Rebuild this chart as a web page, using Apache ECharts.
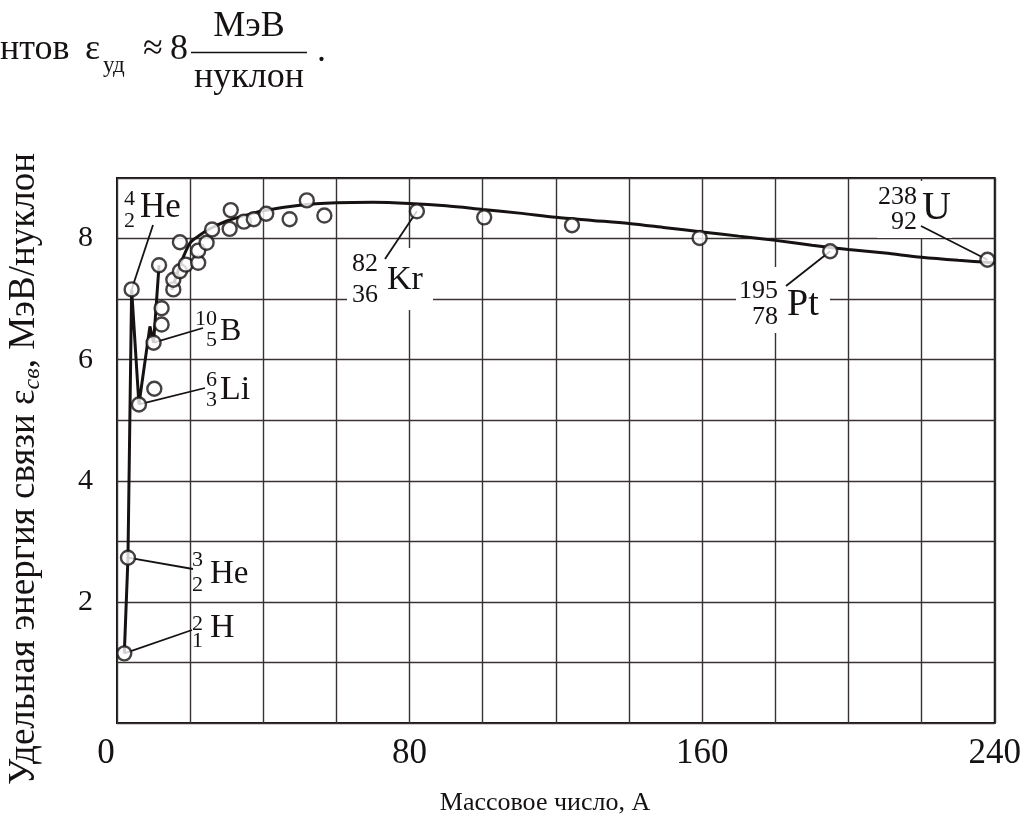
<!DOCTYPE html>
<html>
<head>
<meta charset="utf-8">
<script src="https://cdn.jsdelivr.net/npm/echarts@6/dist/echarts.min.js"></script>
<style>
  html, body { margin: 0; padding: 0; background: #fff; }
  #chart { width: 1024px; height: 825px; }
</style>
</head>
<body>
<div id="chart"></div>
<script>
// Axis tick labels that are printed
const massTicks = [0, 80, 160, 240];
const energyTicks = [2, 4, 6, 8];

// Labelled nuclides: symbol, charge Z, mass number A, binding energy per nucleon (MeV)
const nuclideSymbol = ['H', 'He', 'He', 'Li', 'B', 'Kr', 'Pt', 'U'];
const nuclideZ = [1, 2, 2, 3, 5, 36, 78, 92];
const nuclideA = [2, 3, 4, 6, 10, 82, 195, 238];
const nuclideEnergy = [1.15, 2.73, 7.16, 5.26, 6.28, 8.45, 7.79, 7.65];

// Other measured nuclei
const otherA = [10.2, 12.2, 12.2, 11.5, 15.4, 15.4, 17.2, 17.2, 18.8, 22.2, 22.2, 24.5, 26.0,
                30.8, 31.1, 34.7, 37.4, 40.8, 47.2, 51.9, 56.7, 100.4, 124.4, 159.3];
const otherEnergy = [5.52, 6.58, 6.85, 7.56, 7.16, 7.32, 7.46, 7.94, 7.57, 7.60, 7.80, 7.93, 8.15,
                     8.16, 8.47, 8.28, 8.32, 8.41, 8.32, 8.63, 8.38, 8.35, 8.22, 8.01];

// Broken line through the light nuclei
const lightA = [2, 3, 4, 6, 9.0, 10, 11.5];
const lightEnergy = [1.15, 2.73, 7.16, 5.26, 6.55, 6.28, 7.56];

// Smooth trend for the heavier nuclei
const trendA = [15, 17.5, 20, 22.5, 25, 30, 35, 40, 50, 60, 70, 80, 90, 100, 110, 120, 130,
                140, 150, 160, 170, 180, 190, 200, 210, 220, 230, 240];
const trendEnergy = [7.15, 7.60, 7.93, 8.05, 8.15, 8.29, 8.38, 8.46, 8.55, 8.59, 8.60, 8.58,
                     8.54, 8.48, 8.42, 8.35, 8.30, 8.25, 8.18, 8.11, 8.04, 7.97, 7.89, 7.82,
                     7.76, 7.69, 7.64, 7.60];

const INK = '#161212';
const GRID_INK = '#383232';
const SERIF = '"Liberation Serif", "Times New Roman", serif';

const zip = (xs, ys) => xs.map((x, i) => [x, ys[i]]);

const chart = echarts.init(document.getElementById('chart'), null, { renderer: 'canvas' });

const circleStyle = { color: '#fff', borderColor: INK, borderWidth: 2.4 };

chart.setOption({
  animation: false,
  backgroundColor: '#fff',
  grid: {
    left: 117, right: 26, top: 178, bottom: 102,
    show: true, borderColor: INK, borderWidth: 2, backgroundColor: 'transparent'
  },
  xAxis: {
    type: 'value', min: 0, max: 240, interval: 20,
    axisLine: { show: false }, axisTick: { show: false },
    splitLine: { show: true, lineStyle: { color: GRID_INK, width: 1.4 } },
    axisLabel: {
      showMinLabel: true, showMaxLabel: true,
      fontFamily: SERIF, fontSize: 35, color: INK, margin: 13,
      formatter: v => massTicks.includes(v) ? (v === 0 ? '{zero|0}' : String(v)) : '',
      rich: { zero: { fontFamily: SERIF, fontSize: 35, color: INK, padding: [0, 22, 0, 0] } }
    }
  },
  yAxis: {
    type: 'value', min: 0, max: 9, interval: 1,
    axisLine: { show: false }, axisTick: { show: false },
    splitLine: { show: true, lineStyle: { color: GRID_INK, width: 1.4 } },
    axisLabel: {
      fontFamily: SERIF, fontSize: 30, color: INK, margin: 24,
      formatter: v => energyTicks.includes(v) ? String(v) : ''
    }
  },
  series: [
    {
      type: 'line', data: zip(lightA, lightEnergy), symbol: 'none', z: 3,
      lineStyle: { color: INK, width: 3 }, silent: true
    },
    {
      type: 'line', data: zip(trendA, trendEnergy), symbol: 'none', z: 3,
      smooth: 0.3,
      lineStyle: { color: INK, width: 3 }, silent: true
    },
    {
      type: 'scatter', data: zip(otherA, otherEnergy), symbol: 'circle', symbolSize: 14, z: 5,
      itemStyle: circleStyle, silent: true
    },
    {
      type: 'scatter', data: zip(nuclideA, nuclideEnergy), symbol: 'circle', symbolSize: 14, z: 5,
      itemStyle: circleStyle, silent: true
    }
  ]
});

// ---- annotations ----
const measureCtx = document.createElement('canvas').getContext('2d');
function textWidth(s, font) { measureCtx.font = font; return measureCtx.measureText(s).width; }
function font(size, italic) { return (italic ? 'italic ' : '') + size + 'px ' + SERIF; }
function text(s, x, y, size, align, italic) {
  return {
    type: 'text', x: x, y: y, z: 10, silent: true,
    style: {
      text: s, font: font(size, italic), fill: INK,
      textAlign: align, textVerticalAlign: 'middle', align: align, verticalAlign: 'middle'
    }
  };
}

// Label placement for each nuclide (pixels): symbol left edge / centre line / size,
// right edge of the stacked indices, their centre lines and size, leader start, white backing box
const labelLayout = [
  { sx: 210, sy: 628, ss: 34, ix: 203, sup: 624, sub: 641, is: 22, lx: 192, ly: 630 },
  { sx: 210, sy: 574, ss: 33, ix: 203, sup: 560, sub: 585, is: 22, lx: 193, ly: 569 },
  { sx: 140, sy: 208, ss: 35, ix: 135, sup: 199, sub: 221, is: 22, lx: 153, ly: 225 },
  { sx: 220, sy: 390, ss: 34, ix: 217, sup: 380, sub: 400, is: 22, lx: 205, ly: 388 },
  { sx: 220, sy: 332, ss: 32, ix: 217, sup: 319, sub: 340, is: 22, lx: 203, ly: 328 },
  { sx: 387, sy: 280, ss: 34, ix: 378, sup: 264, sub: 295, is: 26, lx: 385, ly: 259, box: [347, 248, 86, 62] },
  { sx: 787, sy: 305, ss: 38, ix: 778, sup: 291, sub: 317, is: 26, lx: 786, ly: 286, box: [736, 267, 94, 66] },
  { sx: 922, sy: 208, ss: 40, ix: 917, sup: 197, sub: 222, is: 26, lx: 921, ly: 226, box: [877, 181, 75, 57] }
];

const elements = [];

nuclideSymbol.forEach((sym, i) => {
  const L = labelLayout[i];
  const p = chart.convertToPixel({ gridIndex: 0 }, [nuclideA[i], nuclideEnergy[i]]);
  if (L.box) {
    elements.push({
      type: 'rect', z: 1, silent: true,
      shape: { x: L.box[0], y: L.box[1], width: L.box[2], height: L.box[3] },
      style: { fill: '#fff' }
    });
  }
  elements.push({
    type: 'line', z: 4, silent: true,
    shape: { x1: L.lx, y1: L.ly, x2: p[0], y2: p[1] },
    style: { stroke: INK, lineWidth: 1.8 }
  });
  elements.push(text(sym, L.sx, L.sy, L.ss, 'left'));
  elements.push(text(String(nuclideA[i]), L.ix, L.sup, L.is, 'right'));
  elements.push(text(String(nuclideZ[i]), L.ix, L.sub, L.is, 'right'));
});

// Axis titles
elements.push(text('Массовое число, А', 545, 803, 26, 'center'));

const yTitleParts = [
  { t: 'Удельная энергия связи ', size: 37, italic: false, dy: 0 },
  { t: 'ε', size: 37, italic: false, dy: 0 },
  { t: 'св', size: 24, italic: true, dy: 9 },
  { t: ', МэВ/нуклон', size: 37, italic: false, dy: 0 }
];
let yTitleLen = 0;
const yTitleChildren = yTitleParts.map(part => {
  const el = text(part.t, yTitleLen, part.dy, part.size, 'left', part.italic);
  yTitleLen += textWidth(part.t, font(part.size, part.italic));
  return el;
});
elements.push({
  type: 'group', x: 24, y: 469 + yTitleLen / 2, rotation: Math.PI / 2,
  children: yTitleChildren
});

// Formula line above the chart
elements.push(text('нтов', 0, 50, 36, 'left'));
elements.push(text('ε', 85, 50, 36, 'left'));
elements.push(text('уд', 103, 66, 23, 'left'));
elements.push(text('≈', 143, 50, 36, 'left'));
elements.push(text('8', 170, 50, 36, 'left'));
elements.push(text('МэВ', 249, 27, 36, 'center'));
elements.push({
  type: 'line', z: 4, silent: true,
  shape: { x1: 191, y1: 52.5, x2: 307, y2: 52.5 },
  style: { stroke: INK, lineWidth: 1.5 }
});
elements.push(text('нуклон', 249, 78, 36, 'center'));
elements.push(text('.', 317, 52, 36, 'left'));

chart.setOption({ graphic: { elements: elements } });
</script>
</body>
</html>
